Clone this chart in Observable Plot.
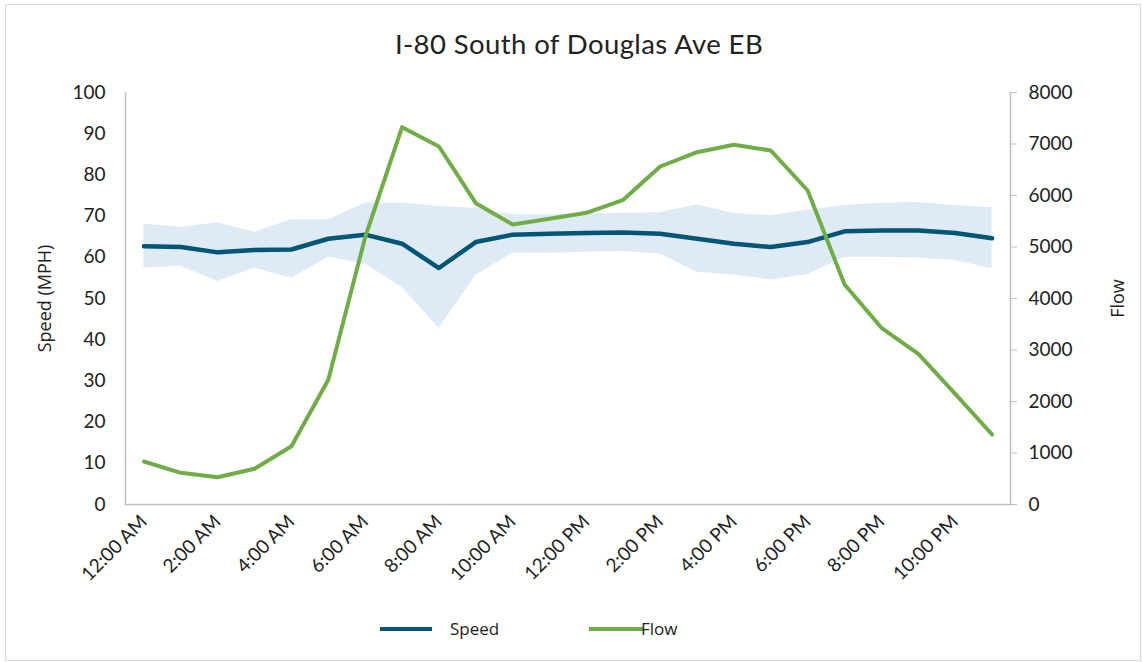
<!DOCTYPE html>
<html>
<head>
<meta charset="utf-8">
<script src="https://cdn.jsdelivr.net/npm/d3@7"></script>
<script src="https://cdn.jsdelivr.net/npm/@observablehq/plot@0.6"></script>
<style>
  body { margin: 0; background: #fff; }
  #wrap { position: relative; width: 1143px; height: 662px; overflow: hidden; font-family: Lato, "Open Sans", sans-serif; }
  #border { position: absolute; left: 5px; top: 4px; width: 1134px; height: 655px; border: 1.5px solid #d9d9d9; }
  #title { position: absolute; left: 0; top: 28px; width: 1158px; text-align: center; font-size: 27.5px; color: #222; line-height: 32px; letter-spacing: 0.4px; }
  #chart { position: absolute; left: 0; top: 70px; }
  .leg { position: absolute; top: 616px; font-family: "Open Sans", sans-serif; font-size: 17px; color: #222; line-height: 26px; }
  .sw { position: absolute; height: 4px; top: 627px; }
</style>
</head>
<body>
<div id="wrap">
  <div id="border"></div>
  <div id="title">I-80 South of Douglas Ave EB</div>
  <div id="chart"></div>
  <div class="sw" style="left:380px;width:52px;background:#005674"></div>
  <div class="leg" style="left:450px">Speed</div>
  <div class="sw" style="left:589px;width:54px;background:#70ad47"></div>
  <div class="leg" style="left:641px">Flow</div>
</div>
<script>
const hours = ["12:00 AM","1:00 AM","2:00 AM","3:00 AM","4:00 AM","5:00 AM","6:00 AM","7:00 AM","8:00 AM","9:00 AM","10:00 AM","11:00 AM",
  "12:00 PM","1:00 PM","2:00 PM","3:00 PM","4:00 PM","5:00 PM","6:00 PM","7:00 PM","8:00 PM","9:00 PM","10:00 PM","11:00 PM"];
const speed = [62.7,62.5,61.2,61.8,61.9,64.5,65.5,63.3,57.4,63.7,65.5,65.7,65.9,66.0,65.7,64.5,63.3,62.5,63.7,66.3,66.5,66.5,65.9,64.6];
const speedMax = [68.0,67.3,68.4,66.1,69.1,69.1,73.2,73.2,72.3,71.9,70.3,70.3,70.5,70.7,70.9,72.7,70.7,70.1,71.5,72.6,73.1,73.3,72.6,72.0];
const speedMin = [57.4,57.8,54.1,57.4,54.9,60.0,58.4,52.7,42.8,55.6,61.0,61.0,61.2,61.4,60.8,56.4,55.7,54.5,55.8,60.0,60.0,59.8,59.2,57.2];
const flow = [835,615,530,693,1132,2421,5190,7327,6951,5851,5437,5547,5664,5916,6563,6841,6984,6874,6097,4272,3431,2926,2149,1359];
const speedTicks = [0,10,20,30,40,50,60,70,80,90,100];
const flowTicks = [0,1000,2000,3000,4000,5000,6000,7000,8000];
const xTickLabels = ["12:00 AM","2:00 AM","4:00 AM","6:00 AM","8:00 AM","10:00 AM","12:00 PM","2:00 PM","4:00 PM","6:00 PM","8:00 PM","10:00 PM"];

const flowMax = 8000, speedAxisMax = 100;
const toSpeed = v => v * speedAxisMax / flowMax;
const rows = hours.map((h, i) => ({i, hour: h, speed: speed[i], lo: speedMin[i], hi: speedMax[i], flow: flow[i]}));
const tickIdx = xTickLabels.map(l => hours.indexOf(l));

const chart = Plot.plot({
  width: 1143,
  height: 530,
  marginLeft: 125,
  marginRight: 133,
  marginTop: 22,
  marginBottom: 96,
  style: {fontFamily: "Lato, sans-serif", fontSize: "18px", color: "#222", background: "transparent"},
  x: {type: "linear", domain: [-0.5, hours.length - 0.5]},
  y: {domain: [0, 100]},
  marks: [
    Plot.areaY(rows, {x: "i", y1: "lo", y2: "hi", fill: "#deeaf6", curve: "linear"}),
    Plot.frame({anchor: "left", stroke: "#bfbfbf", strokeWidth: 1.5}),
    Plot.frame({anchor: "right", stroke: "#bfbfbf", strokeWidth: 1.5}),
    Plot.frame({anchor: "bottom", stroke: "#bfbfbf", strokeWidth: 1.5}),
    Plot.axisY(speedTicks, {anchor: "left", tickSize: 0, tickPadding: 20, label: "Speed (MPH)", labelAnchor: "center", labelOffset: 87, labelArrow: "none", fontSize: 19}),
    Plot.axisY(flowTicks.map(toSpeed), {anchor: "right", tickSize: 6, tickPadding: 12, stroke: "#bfbfbf", tickFormat: d => String(Math.round(d * flowMax / speedAxisMax)), label: "Flow", labelAnchor: "center", labelOffset: 113, labelArrow: "none", fontSize: 19}),
    Plot.axisX(tickIdx, {anchor: "bottom", tickSize: 0, tickRotate: -45, tickPadding: 14, tickFormat: i => hours[i], label: null, fontSize: 19}),
    Plot.line(rows, {x: "i", y: "speed", stroke: "#005674", strokeWidth: 4.5, strokeLinejoin: "round", strokeLinecap: "round"}),
    Plot.line(rows, {x: "i", y: d => toSpeed(d.flow), stroke: "#70ad47", strokeWidth: 4, strokeLinejoin: "round", strokeLinecap: "round"})
  ]
});
chart.querySelectorAll("g[aria-label='y-axis label']").forEach(el => { el.setAttribute("font-size", "18"); el.setAttribute("font-family", "Open Sans, sans-serif"); });
document.getElementById("chart").appendChild(chart);
</script>
</body>
</html>
